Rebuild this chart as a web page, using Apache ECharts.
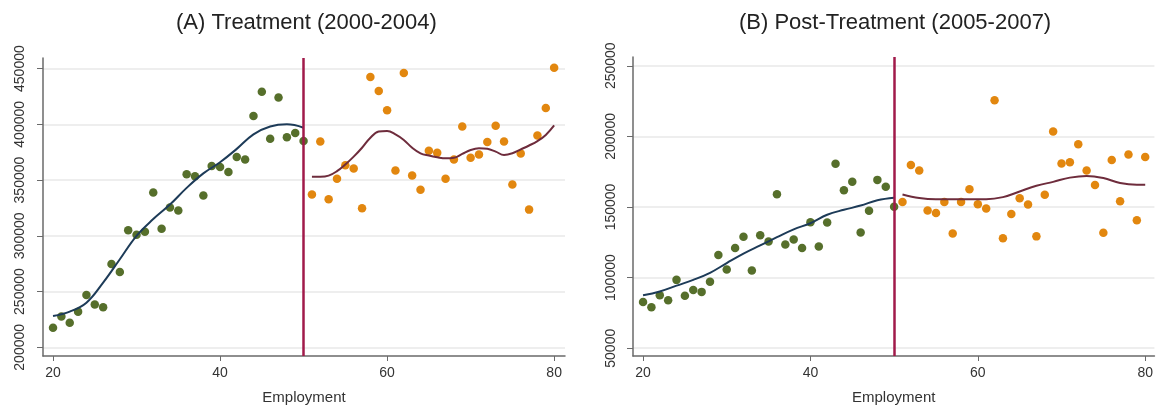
<!DOCTYPE html>
<html>
<head>
<meta charset="utf-8">
<script src="https://cdn.jsdelivr.net/npm/echarts@6/dist/echarts.min.js"></script>
<style>
  html, body { margin: 0; padding: 0; background: #fff; }
  #chart { width: 1156px; height: 410px; }
</style>
</head>
<body>
<div id="chart"></div>
<script>
// employment bins
const preX = [20, 21, 22, 23, 24, 25, 26, 27, 28, 29, 30, 31, 32, 33, 34, 35, 36, 37, 38, 39, 40, 41, 42, 43, 44, 45, 46, 47, 48, 49, 50];
const postX = [51, 52, 53, 54, 55, 56, 57, 58, 59, 60, 61, 62, 63, 64, 65, 66, 67, 68, 69, 70, 71, 72, 73, 74, 75, 76, 77, 78, 79, 80];

// (A) Treatment 2000-2004
const treatPre = [217500, 227600, 222000, 232000, 247000, 238500, 236000, 274700, 267500, 305000, 301000, 303700, 338800, 306300, 325300, 322700, 355200, 353400, 336200, 362700, 361800, 357200, 370700, 368400, 407500, 429300, 387100, 424100, 388500, 392200, 385000];
const treatPost = [337000, 384700, 332800, 351100, 363200, 360300, 324700, 442500, 429900, 412600, 358600, 446000, 354000, 341400, 376400, 374400, 351100, 368400, 398000, 370100, 372900, 384200, 398800, 384700, 346000, 373800, 323500, 389900, 414700, 450800];
const treatFitPreX = [20, 22, 24, 26, 28, 30, 32, 34, 36, 38, 40, 42, 44, 46, 48, 50];
const treatFitPre = [228000, 232000, 240000, 258000, 279000, 300000, 315000, 328000, 343000, 356000, 366000, 378000, 391000, 398000, 400000, 397000];
const treatFitPostX = postX;
const treatFitPost = [353000, 353000, 354000, 358000, 364000, 371000, 379000, 388000, 393500, 394000, 391000, 386000, 379000, 374000, 372000, 370500, 369500, 370000, 373500, 377000, 378500, 378000, 375500, 372500, 374000, 377500, 381000, 385000, 390500, 399000];

// (B) Post-Treatment 2005-2007
const postPre = [82700, 79000, 87500, 84000, 98400, 87200, 91300, 89900, 97000, 116000, 105700, 121000, 129000, 105000, 130000, 125500, 159000, 123500, 127000, 121000, 139200, 122000, 139000, 180600, 161900, 167800, 132000, 147300, 169200, 164400, 150200];
const postPost = [153600, 179700, 175800, 147500, 145700, 153600, 131300, 153600, 162500, 152000, 149000, 225500, 127900, 145000, 156200, 151800, 129200, 158700, 203400, 180800, 181700, 194500, 175800, 165500, 131700, 183300, 154100, 187200, 140600, 185400];
const postFitPreX = [20, 22, 24, 26, 28, 30, 32, 34, 36, 38, 40, 42, 44, 46, 48, 50];
const postFitPre = [87500, 90200, 94300, 98400, 103400, 110300, 117000, 122800, 128600, 134200, 138500, 144500, 148000, 151000, 154800, 156600];
const postFitPostX = [51, 53, 55, 57, 59, 61, 63, 65, 67, 69, 71, 73, 75, 77, 79, 80];
const postFitPost = [158900, 156400, 155500, 155500, 155500, 155500, 157000, 161000, 165000, 167800, 170800, 172000, 170500, 167000, 165800, 165800];

const xTicks = [20, 40, 60, 80];
const yTicksA = [200000, 250000, 300000, 350000, 400000, 450000];
const yTicksB = [50000, 100000, 150000, 200000, 250000];
const cutoff = 50;
const titles = ['(A) Treatment (2000-2004)', '(B) Post-Treatment (2005-2007)'];

const FONT = "'Liberation Sans', Arial, sans-serif";
const GREEN = '#566f2b';
const ORANGE = '#e2870f';
const BLUE = '#1d3b58';
const MAROON = '#6e2c3c';
const CUT = '#a11a4a';

function pairs(xs, ys) {
  return xs.map((x, i) => [x, ys[i]]);
}

function xAxisFor(idx, min, max) {
  return {
    type: 'value', gridIndex: idx, min: min, max: max,
    name: 'Employment', nameLocation: 'middle', nameGap: 34,
    nameTextStyle: { fontFamily: FONT, fontSize: 15, color: '#333' },
    axisLine: { onZero: false, lineStyle: { color: '#6a6a6a', width: 1.5 } },
    axisTick: { customValues: xTicks, length: 5, lineStyle: { color: '#6a6a6a' } },
    axisLabel: { customValues: xTicks, fontFamily: FONT, fontSize: 14, color: '#333', margin: 10 },
    splitLine: { show: false }
  };
}

function yAxisFor(idx, min, max, ticks, margin) {
  return {
    type: 'value', gridIndex: idx, min: min, max: max,
    axisLine: { show: true, onZero: false, lineStyle: { color: '#6a6a6a', width: 1.5 } },
    axisTick: { show: true, customValues: ticks, length: 6, lineStyle: { color: '#6a6a6a' } },
    axisLabel: {
      customValues: ticks, rotate: 90, fontFamily: FONT, fontSize: 14, color: '#333', margin: margin,
      formatter: v => String(v)
    },
    splitLine: { show: true, lineStyle: { color: '#e9e9e9', width: 1.5 } }
  };
}

function scatter(idx, data, color) {
  return {
    type: 'scatter', xAxisIndex: idx, yAxisIndex: idx, data: data,
    symbolSize: 8.5, itemStyle: { color: color, opacity: 1 }, z: 2
  };
}

function fit(idx, data, color) {
  return {
    type: 'line', xAxisIndex: idx, yAxisIndex: idx, data: data,
    smooth: 0.4, showSymbol: false, lineStyle: { color: color, width: 2 }, z: 3
  };
}

function cutLine(idx) {
  return {
    type: 'line', xAxisIndex: idx, yAxisIndex: idx, data: [], z: 4,
    markLine: {
      silent: true, symbol: 'none', label: { show: false },
      lineStyle: { color: CUT, width: 2.5, type: 'solid' },
      data: [{ xAxis: cutoff }]
    }
  };
}

const chart = echarts.init(document.getElementById('chart'), null, { renderer: 'canvas' });
chart.setOption({
  backgroundColor: '#fff',
  animation: false,
  title: [
    { text: titles[0], left: 176, top: 12, padding: 0, textStyle: { fontFamily: FONT, fontSize: 22, fontWeight: 'normal', color: '#222' } },
    { text: titles[1], left: 739, top: 12, padding: 0, textStyle: { fontFamily: FONT, fontSize: 22, fontWeight: 'normal', color: '#222' } }
  ],
  grid: [
    { left: 43, right: 591, top: 58, bottom: 43 },
    { left: 633, right: 0, top: 57, bottom: 44 }
  ],
  xAxis: [xAxisFor(0, 18.8, 81.3), xAxisFor(1, 18.8, 81.1)],
  yAxis: [yAxisFor(0, 192200, 459500, yTicksA, 16), yAxisFor(1, 44500, 256200, yTicksB, 15)],
  series: [
    scatter(0, pairs(preX, treatPre), GREEN),
    scatter(0, pairs(postX, treatPost), ORANGE),
    fit(0, pairs(treatFitPreX, treatFitPre), BLUE),
    fit(0, pairs(treatFitPostX, treatFitPost), MAROON),
    cutLine(0),
    scatter(1, pairs(preX, postPre), GREEN),
    scatter(1, pairs(postX, postPost), ORANGE),
    fit(1, pairs(postFitPreX, postFitPre), BLUE),
    fit(1, pairs(postFitPostX, postFitPost), MAROON),
    cutLine(1)
  ]
});
</script>
</body>
</html>
